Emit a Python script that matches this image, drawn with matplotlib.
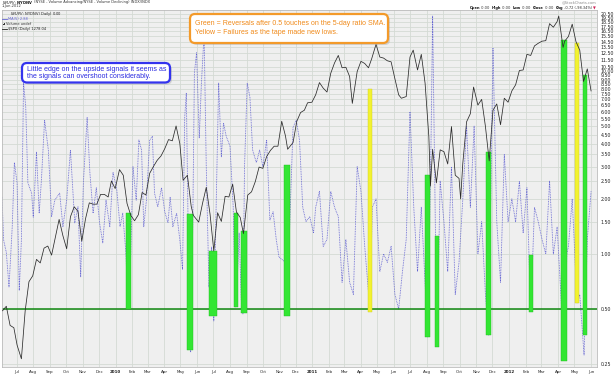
import numpy as np
import matplotlib
matplotlib.use("Agg")
import matplotlib.pyplot as plt
import matplotlib.dates as mdates
from matplotlib.patches import FancyBboxPatch, Rectangle

# ---- data ----
# $SPX overlay (black line)
spx_dates = ["2009-06-05", "2009-06-12", "2009-06-19", "2009-06-26", "2009-07-02", "2009-07-10",
             "2009-07-17", "2009-07-24", "2009-07-31", "2009-08-07", "2009-08-14", "2009-08-21",
             "2009-08-28", "2009-09-04", "2009-09-11", "2009-09-18", "2009-09-25", "2009-10-02",
             "2009-10-09", "2009-10-16", "2009-10-23", "2009-10-30", "2009-11-06", "2009-11-13",
             "2009-11-20", "2009-11-27", "2009-12-04", "2009-12-11", "2009-12-18", "2009-12-24",
             "2009-12-31", "2010-01-08", "2010-01-15", "2010-01-22", "2010-01-29", "2010-02-05",
             "2010-02-12", "2010-02-19", "2010-02-26", "2010-03-05", "2010-03-12", "2010-03-19",
             "2010-03-26", "2010-04-02", "2010-04-09", "2010-04-16", "2010-04-23", "2010-04-30",
             "2010-05-06", "2010-05-14", "2010-05-21", "2010-05-25", "2010-06-04", "2010-06-11",
             "2010-06-18", "2010-06-25", "2010-07-02", "2010-07-09", "2010-07-16", "2010-07-23",
             "2010-07-30", "2010-08-06", "2010-08-13", "2010-08-20", "2010-08-26", "2010-09-03",
             "2010-09-10", "2010-09-17", "2010-09-24", "2010-10-01", "2010-10-08", "2010-10-15",
             "2010-10-22", "2010-10-29", "2010-11-05", "2010-11-12", "2010-11-16", "2010-11-26",
             "2010-12-03", "2010-12-10", "2010-12-17", "2010-12-23", "2010-12-31", "2011-01-07",
             "2011-01-14", "2011-01-21", "2011-01-28", "2011-02-04", "2011-02-11", "2011-02-18",
             "2011-02-25", "2011-03-04", "2011-03-11", "2011-03-16", "2011-03-25", "2011-04-01",
             "2011-04-08", "2011-04-15", "2011-04-21", "2011-04-29", "2011-05-06", "2011-05-13",
             "2011-05-20", "2011-05-27", "2011-06-03", "2011-06-10", "2011-06-15", "2011-06-24",
             "2011-07-01", "2011-07-07", "2011-07-15", "2011-07-22", "2011-07-29", "2011-08-05",
             "2011-08-08", "2011-08-12", "2011-08-19", "2011-08-26", "2011-09-02", "2011-09-09",
             "2011-09-16", "2011-09-23", "2011-09-30", "2011-10-03", "2011-10-07", "2011-10-14",
             "2011-10-21", "2011-10-27", "2011-11-04", "2011-11-11", "2011-11-18", "2011-11-25",
             "2011-12-02", "2011-12-09", "2011-12-16", "2011-12-23", "2011-12-30", "2012-01-06",
             "2012-01-13", "2012-01-20", "2012-01-27", "2012-02-03", "2012-02-10", "2012-02-17",
             "2012-02-24", "2012-03-02", "2012-03-09", "2012-03-16", "2012-03-23", "2012-03-30",
             "2012-04-02", "2012-04-10", "2012-04-13", "2012-04-20", "2012-04-27", "2012-05-04",
             "2012-05-11", "2012-05-18", "2012-05-25", "2012-06-01"]
spx_close = [940, 946, 921, 918, 896, 879, 940, 979, 987, 1010, 1005, 1026,
             1029, 1016, 1042, 1068, 1044, 1025, 1072, 1087, 1080, 1036, 1069, 1093,
             1091, 1091, 1106, 1106, 1102, 1127, 1115, 1145, 1136, 1092, 1074, 1066,
             1075, 1109, 1105, 1139, 1150, 1160, 1167, 1179, 1194, 1192, 1217, 1187,
             1128, 1136, 1088, 1074, 1064, 1092, 1117, 1076, 1022, 1078, 1065, 1103,
             1102, 1122, 1079, 1071, 1047, 1105, 1110, 1126, 1149, 1147, 1166, 1176,
             1183, 1183, 1225, 1200, 1178, 1189, 1225, 1240, 1244, 1257, 1258, 1271,
             1293, 1283, 1276, 1310, 1329, 1343, 1320, 1321, 1304, 1256, 1313, 1332,
             1328, 1320, 1337, 1364, 1340, 1338, 1333, 1331, 1300, 1271, 1265, 1268,
             1340, 1353, 1316, 1345, 1292, 1199, 1119, 1178, 1124, 1177, 1174, 1154,
             1216, 1136, 1131, 1099, 1155, 1224, 1238, 1285, 1253, 1263, 1216, 1159,
             1244, 1255, 1219, 1265, 1258, 1278, 1289, 1315, 1316, 1345, 1343, 1361,
             1366, 1370, 1371, 1404, 1397, 1408, 1419, 1358, 1370, 1379, 1403, 1369,
             1353, 1295, 1318, 1278]

# MA(5) of $NYUPV:$NYDNV (blue dotted)
ratio_dates = ["2009-06-04", "2009-06-07", "2009-06-12", "2009-06-17", "2009-06-23", "2009-06-27",
               "2009-07-02", "2009-07-06", "2009-07-10", "2009-07-14", "2009-07-18", "2009-07-22",
               "2009-07-29", "2009-08-01", "2009-08-07", "2009-08-12", "2009-08-16", "2009-08-22",
               "2009-08-29", "2009-09-04", "2009-09-10", "2009-09-19", "2009-09-25", "2009-10-02",
               "2009-10-09", "2009-10-17", "2009-10-23", "2009-10-28", "2009-11-02", "2009-11-09",
               "2009-11-14", "2009-11-20", "2009-11-26", "2009-12-02", "2009-12-08", "2009-12-14",
               "2009-12-21", "2009-12-27", "2010-01-03", "2010-01-09", "2010-01-14", "2010-01-20",
               "2010-01-24", "2010-01-28", "2010-02-02", "2010-02-08", "2010-02-13", "2010-02-18",
               "2010-02-22", "2010-02-27", "2010-03-05", "2010-03-10", "2010-03-14", "2010-03-20",
               "2010-03-27", "2010-04-02", "2010-04-08", "2010-04-12", "2010-04-17", "2010-04-24",
               "2010-04-30", "2010-05-05", "2010-05-09", "2010-05-12", "2010-05-16", "2010-05-20",
               "2010-05-24", "2010-05-27", "2010-05-31", "2010-06-05", "2010-06-09", "2010-06-14",
               "2010-06-18", "2010-06-23", "2010-06-28", "2010-07-02", "2010-07-07", "2010-07-11",
               "2010-07-16", "2010-07-20", "2010-07-25", "2010-08-01", "2010-08-07", "2010-08-11",
               "2010-08-15", "2010-08-18", "2010-08-22", "2010-08-25", "2010-08-28", "2010-09-02",
               "2010-09-07", "2010-09-12", "2010-09-19", "2010-09-25", "2010-10-01", "2010-10-08",
               "2010-10-14", "2010-10-20", "2010-10-26", "2010-10-31", "2010-11-06", "2010-11-11",
               "2010-11-15", "2010-11-20", "2010-11-26", "2010-12-02", "2010-12-08", "2010-12-14",
               "2010-12-20", "2010-12-27", "2011-01-03", "2011-01-07", "2011-01-14", "2011-01-21",
               "2011-01-28", "2011-02-04", "2011-02-11", "2011-02-18", "2011-02-25", "2011-03-04",
               "2011-03-11", "2011-03-18", "2011-03-25", "2011-04-01", "2011-04-08", "2011-04-18",
               "2011-04-22", "2011-04-29", "2011-05-06", "2011-05-13", "2011-05-20", "2011-05-27",
               "2011-06-03", "2011-06-10", "2011-06-17", "2011-06-24", "2011-07-01", "2011-07-08",
               "2011-07-15", "2011-07-22", "2011-08-03", "2011-08-09", "2011-08-12", "2011-08-20",
               "2011-08-26", "2011-09-02", "2011-09-09", "2011-09-16", "2011-09-23", "2011-09-30",
               "2011-10-07", "2011-10-14", "2011-10-21", "2011-10-28", "2011-11-04", "2011-11-11",
               "2011-11-18", "2011-11-24", "2011-12-02", "2011-12-09", "2011-12-16", "2011-12-23",
               "2011-12-30", "2012-01-06", "2012-01-13", "2012-01-20", "2012-01-27", "2012-02-03",
               "2012-02-10", "2012-02-17", "2012-02-24", "2012-03-02", "2012-03-09", "2012-03-16",
               "2012-03-23", "2012-03-30", "2012-04-06", "2012-04-12", "2012-04-17", "2012-04-20",
               "2012-04-27", "2012-05-06", "2012-05-11", "2012-05-19", "2012-05-25", "2012-06-01"]
ratio_ma5 = [2.05, 1.19, 1.02, 0.66, 1.41, 3.16,
             2.45, 0.63, 1.19, 8.6, 6.4, 2.45,
             2.15, 1.59, 3.6, 1.67, 2.5, 5.4,
             3.7, 1.6, 1.97, 2.15, 1.41, 1.97,
             3.7, 1.48, 1.81, 0.75, 2.45, 5.6,
             2.8, 1.67, 2.3, 1.48, 1.15, 1.97,
             1.41, 2.8, 2.24, 1.41, 1.67, 1.0,
             0.5, 0.8, 3.0, 1.97, 4.2, 3.7,
             1.41, 1.97, 4.2, 4.4, 2.15, 1.81,
             2.3, 1.7, 1.48, 2.05, 1.41, 1.67,
             1.19, 0.82, 5.6, 7.6, 1.0, 0.29,
             1.5, 9.8, 12.6, 4.3, 8.6, 16.0,
             3.0, 0.66, 1.09, 0.43, 2.24, 8.6,
             3.4, 5.2, 4.4, 3.9, 1.81, 0.51,
             0.79, 1.3, 0.56, 0.47, 3.0, 8.6,
             7.2, 3.7, 3.16, 3.7, 3.0, 4.2,
             1.53, 1.7, 1.19, 0.96, 0.93, 0.9,
             0.46, 1.5, 4.9, 5.4, 4.2, 1.8,
             1.5, 1.6, 1.3, 1.8, 2.2, 1.1,
             1.2, 2.2, 1.8, 1.6, 0.7, 1.2,
             0.7, 0.6, 3.0, 2.2, 1.1, 0.48,
             1.8, 2.0, 0.8, 1.0, 0.9, 1.1,
             0.6, 0.5, 0.8, 1.2, 6.0, 1.8,
             0.8, 1.8, 0.35, 4.0, 20.0, 0.31,
             2.5, 1.5, 0.8, 3.0, 0.6, 0.9,
             2.0, 5.0, 1.8, 5.0, 1.0, 1.5,
             0.6, 0.36, 13.4, 1.5, 0.7, 3.5,
             1.5, 2.0, 1.5, 2.5, 1.3, 2.3,
             0.48, 1.8, 1.5, 1.2, 1.0, 2.5,
             1.0, 1.4, 0.6, 0.26, 1.0, 1.1,
             2.0, 0.54, 0.6, 0.28, 1.2, 2.2]

# highlight bars (date span, low, high)
green_start = ["2010-01-21", "2010-05-13", "2010-06-24", "2010-08-08", "2010-08-21", "2010-11-10",
               "2011-07-29", "2011-08-16", "2011-11-19", "2012-02-07", "2012-04-07", "2012-05-17"]
green_end = ["2010-01-29", "2010-05-24", "2010-07-07", "2010-08-15", "2010-09-01", "2010-11-21",
             "2011-08-07", "2011-08-24", "2011-11-28", "2012-02-14", "2012-04-17", "2012-05-24"]
green_low = [0.5, 0.30, 0.46, 0.51, 0.475, 0.46, 0.35, 0.31, 0.36, 0.48, 0.26, 0.36]
green_high = [1.67, 1.66, 1.04, 1.67, 1.33, 3.06, 2.7, 1.26, 3.6, 0.99, 14.8, 9.5]
yellow_start = ["2011-04-14", "2012-05-02"]
yellow_end = ["2011-04-22", "2012-05-10"]
yellow_low = [0.48, 0.54]
yellow_high = [8.0, 14.2]

ytick_vals = [0.25, 0.5, 1.0, 1.5, 2.0, 2.5, 3.0, 3.5, 4.0, 4.5, 5.0, 5.5, 6.0, 6.5, 7.0, 7.5,
              8.0, 8.5, 9.0, 9.5, 10.0, 10.5, 11.5, 12.5, 13.5, 14.5, 15.5, 16.5, 17.5, 18.5,
              19.5, 20.5]


def dnum(lst):
    return mdates.date2num(np.array(lst, dtype="datetime64[D]"))


W, H = 615, 376
fig = plt.figure(figsize=(W / 100, H / 100), dpi=100)
fig.patch.set_facecolor("white")

# main panel: x 2..597, y 10..367 (pixels)
ax = fig.add_axes([2 / W, (H - 367) / H, 595 / W, 357 / H])
ax.set_facecolor("#efefef")
ax.set_yscale("log")
ax.set_ylim(0.2407, 21.6)
ax.set_xlim(dnum(["2009-06-04"])[0], dnum(["2012-06-12"])[0])

# SPX overlay gets its own (hidden) log scale
ax2 = ax.twinx()
ax2.set_yscale("log")
ax2.set_ylim(869, 1431)
ax2.set_yticks([])
ax2.yaxis.set_minor_locator(matplotlib.ticker.NullLocator())
for s in ax2.spines.values():
    s.set_visible(False)

months = np.arange("2009-07", "2012-07", dtype="datetime64[M]").astype("datetime64[D]")
ax.set_xticks(mdates.date2num(months))
labels = []
for m in months.astype(object):
    labels.append(str(m.year) if m.month == 1 else m.strftime("%b"))
ax.set_xticklabels(labels, fontsize=2.9, color="#222222")
for t, m in zip(ax.get_xticklabels(), months.astype(object)):
    if m.month == 1:
        t.set_fontweight("bold")
ax.yaxis.tick_right()
ax.yaxis.set_label_position("right")
ax.yaxis.set_minor_locator(matplotlib.ticker.NullLocator())
ax.set_yticks(ytick_vals)
ax.set_yticklabels(["%.2f" % v for v in ytick_vals], fontsize=3.4, color="#222222")
ax.tick_params(axis="both", length=0, pad=2.5)
ax.grid(True, color="#d4dad4", lw=0.6)
ax.set_axisbelow(True)
for s in ax.spines.values():
    s.set_color("#bbbbbb")
    s.set_linewidth(0.6)

ax.plot(dnum(ratio_dates), ratio_ma5, color="#6464d2", lw=0.6, ls=(0, (1, 1)), zorder=2)
ax.axhline(0.5, color="#118811", lw=1.1, zorder=2.5)

gs, ge = dnum(green_start), dnum(green_end)
ax.bar(gs, np.array(green_high) - np.array(green_low), width=ge - gs, bottom=green_low,
       align="edge", color="#33e633", edgecolor="#22bb22", lw=0.3, zorder=3)
ys, ye = dnum(yellow_start), dnum(yellow_end)
ax.bar(ys, np.array(yellow_high) - np.array(yellow_low), width=ye - ys, bottom=yellow_low,
       align="edge", color="#f2f230", edgecolor="#cccc22", lw=0.3, zorder=3)

ax2.plot(dnum(spx_dates), spx_close, color="#2a2a2a", lw=0.55, zorder=5)

# overlay in pixel coordinates for texts and boxes
ov = fig.add_axes([0, 0, 1, 1])
ov.set_xlim(0, W)
ov.set_ylim(H, 0)
ov.axis("off")
ov.patch.set_alpha(0)
ov.set_zorder(10)

fig.canvas.draw()
rend = fig.canvas.get_renderer()


def put_runs(x, y, parts, size, align="left"):
    objs = []
    for s, kw in parts:
        objs.append(ov.text(0, y, s, fontsize=size, va="center", ha="left", **kw))
    widths = [o.get_window_extent(rend).width for o in objs]
    cx = x - sum(widths) if align == "right" else x
    for o, w in zip(objs, widths):
        o.set_x(cx)
        cx += w


hdr = 2.6
put_runs(2, 2.5, [("$NYUPV:$NYDNV", dict(weight="bold", color="#111111")),
                  (" (NYSE - Volume Advancing/NYSE - Volume Declining) INDX/INDX", dict(color="#333333"))], hdr)
put_runs(2, 6.5, [("1-Jun-2012", dict(color="#333333"))], hdr)
put_runs(10, 14.5, [("$NYUPV:$NYDNV (Daily) 0.00", dict(color="#222222"))], hdr)
ov.plot([2, 7], [19, 19], color="#6464d2", lw=0.6)
put_runs(8, 19, [("MA(5) 2.88", dict(color="#6464d2"))], hdr)
ov.add_patch(Rectangle((2.5, 23.5), 1, 1.8, color="#333333", lw=0))
ov.add_patch(Rectangle((4.2, 22.5), 1, 2.8, color="#333333", lw=0))
put_runs(6, 24, [("Volume undef", dict(color="#333333"))], hdr)
ov.plot([2, 7], [29, 29], color="#222222", lw=0.6)
put_runs(8, 29, [("$SPX (Daily) 1278.04", dict(color="#222222"))], hdr)

put_runs(596, 2.5, [("@StockCharts.com", dict(color="#888888"))], hdr, align="right")
put_runs(596, 8, [("Open", dict(weight="bold", color="#111111")), (" 0.00  ", dict(color="#333333")),
                  ("High", dict(weight="bold", color="#111111")), (" 0.00  ", dict(color="#333333")),
                  ("Low", dict(weight="bold", color="#111111")), (" 0.00  ", dict(color="#333333")),
                  ("Close", dict(weight="bold", color="#111111")), (" 0.00  ", dict(color="#333333")),
                  ("Chg", dict(weight="bold", color="#111111")), (" -0.72 (-98.34%) ", dict(color="#333333")),
                  ("\u25bc", dict(color="#cc2255"))], hdr, align="right")


# annotation boxes
def note_box(x0, y0, x1, y1, edge, lines, line_y, tcolor):
    ov.add_patch(FancyBboxPatch((x0 + 2, y0 + 2), x1 - x0, y1 - y0,
                                boxstyle="round,pad=0,rounding_size=5",
                                fc="#999999", ec="none", alpha=0.35))
    ov.add_patch(FancyBboxPatch((x0, y0), x1 - x0, y1 - y0,
                                boxstyle="round,pad=0,rounding_size=5",
                                fc="white", ec=edge, lw=1.6))
    for s, ly in zip(lines, line_y):
        ov.text(x0 + 5, ly, s, fontsize=5.0, color=tcolor,
                family="Liberation Sans", va="center", ha="left")


note_box(190, 14, 388, 43, "#f39a2a",
         ["Green = Reversals after 0.5 touches on the 5-day ratio SMA.",
          "Yellow = Failures as the tape made new lows."], [23.5, 33], "#f08a1a")
note_box(22, 63, 170, 82.5, "#3333ee",
         ["Little edge on the upside signals it seems as",
          "the signals can overshoot considerably."], [69.3, 76.7], "#2a2ae0")

fig.savefig("out.png", dpi=100)
